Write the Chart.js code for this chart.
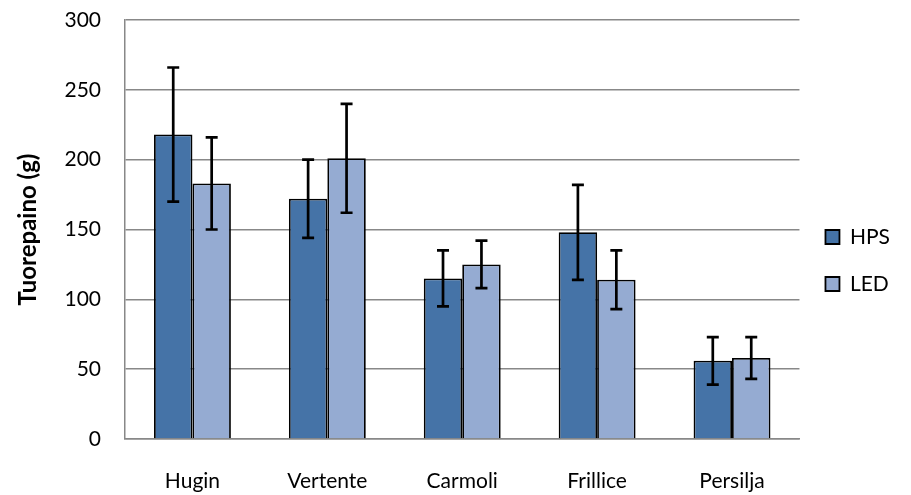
<!DOCTYPE html>
<html>
<head>
<meta charset="utf-8">
<script src="https://cdn.jsdelivr.net/npm/chart.js@4"></script>
<style>
  html, body { margin: 0; padding: 0; background: #fff; }
  #wrap { width: 911px; height: 495px; }
</style>
</head>
<body>
<div id="wrap"><canvas id="chart"></canvas></div>
<script>
// --- DATA ---
const categories = ["Hugin", "Vertente", "Carmoli", "Frillice", "Persilja"];
const hpsValues = [218, 172, 115, 148, 56];
const hpsErrors = [48, 28, 20, 34, 17];
const ledValues = [183, 201, 125, 114, 58];
const ledErrors = [33, 39, 17, 21, 15];
const yTicks = [0, 50, 100, 150, 200, 250, 300];

const FONT = "Lato, 'Liberation Sans', sans-serif";

// --- ERROR BARS ---
const errorBars = {
  id: "errorBars",
  afterDatasetsDraw(chart) {
    const ctx = chart.ctx;
    const y = chart.scales.y;
    chart.data.datasets.forEach((ds, i) => {
      const meta = chart.getDatasetMeta(i);
      meta.data.forEach((bar, j) => {
        const v = ds.data[j], e = ds.errors[j];
        const top = y.getPixelForValue(v + e);
        const bot = y.getPixelForValue(v - e);
        ctx.save();
        ctx.strokeStyle = "#000";
        ctx.lineWidth = 2.7;
        ctx.beginPath();
        ctx.moveTo(bar.x, top); ctx.lineTo(bar.x, bot);
        ctx.moveTo(bar.x - 6, top); ctx.lineTo(bar.x + 6, top);
        ctx.moveTo(bar.x - 6, bot); ctx.lineTo(bar.x + 6, bot);
        ctx.stroke();
        ctx.restore();
      });
    });
  }
};

new Chart(document.getElementById("chart"), {
  type: "bar",
  data: {
    labels: categories,
    datasets: [
      { label: "HPS", data: hpsValues, errors: hpsErrors,
        backgroundColor: "#4573a7", borderColor: "#000", borderWidth: 1.8 },
      { label: "LED", data: ledValues, errors: ledErrors,
        backgroundColor: "#95abd2", borderColor: "#000", borderWidth: 1.8 }
    ]
  },
  options: {
    responsive: true,
    maintainAspectRatio: false,
    animation: false,
    layout: { padding: { top: 20, right: 11, bottom: 0, left: 14 } },
    datasets: { bar: { categoryPercentage: 0.57, barPercentage: 1.0 } },
    plugins: {
      tooltip: { enabled: false },
      legend: {
        position: "right",
        title: { display: true, text: " ", padding: 0, font: { size: 5 } },
        labels: {
          font: { family: FONT, size: 21 },
          color: "#000",
          boxWidth: 14,
          boxHeight: 14,
          padding: 26
        }
      }
    },
    scales: {
      x: {
        afterFit: s => { s.height = 56; s.paddingLeft = 0; s.paddingRight = 0; },
        grid: { display: false, drawTicks: false },
        border: { color: "#888", width: 1.5 },
        ticks: { font: { family: FONT, size: 21 }, color: "#000", padding: 30 }
      },
      y: {
        min: 0, max: 300,
        afterBuildTicks: s => { s.ticks = yTicks.map(v => ({ value: v })); },
        afterFit: s => { s.width = 111; s.paddingTop = 0; s.paddingBottom = 0; },
        grid: { color: "#888", lineWidth: 1.5, drawTicks: false },
        border: { color: "#888", width: 1.5 },
        ticks: { font: { family: FONT, size: 21 }, color: "#000", padding: 24 },
        title: { display: true, text: "Tuorepaino (g)", color: "#000",
                 font: { family: FONT, size: 24, weight: "bold" }, padding: 0 }
      }
    }
  },
  plugins: [errorBars]
});
</script>
</body>
</html>
